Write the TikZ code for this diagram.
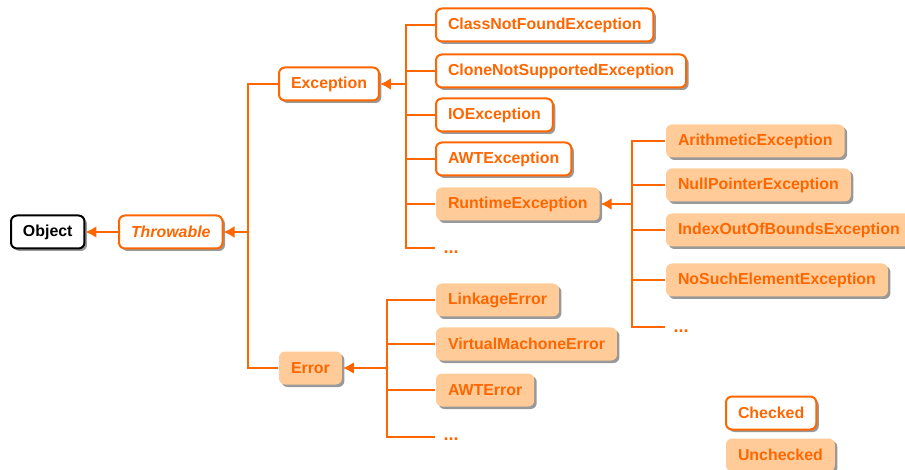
\documentclass[tikz,border=0pt]{standalone}
\usepackage{fontspec}
\setmainfont{Liberation Sans}
\usepackage{tikz}
\usetikzlibrary{arrows.meta,positioning,shadows}
\definecolor{excorange}{RGB}{255,102,0}
\definecolor{excfill}{RGB}{255,204,153}

\begin{document}
\begin{tikzpicture}[x=1pt,y=-1pt,>={Latex[length=11pt,width=12pt]},
  every node/.style={font=\fontsize{15.9}{18}\selectfont\bfseries,text=excorange,anchor=west},
  classbox/.style={rounded corners=6pt,minimum height=33pt,inner xsep=12pt,line width=2pt,
    drop shadow={shadow xshift=2.5pt,shadow yshift=-2.5pt,fill=black!40,opacity=1}},
  chkbox/.style={classbox,draw=excorange,fill=white},
  unchkbox/.style={classbox,fill=excfill},
  dots/.style={font=\fontsize{18}{20}\selectfont\bfseries},
  link/.style={draw=excorange,line width=2.3pt}]
\useasboundingbox (0,0) rectangle (905,470);

% root of the hierarchy
\node[classbox,draw=black,fill=white,text=black](obj) at (10,232){Object};
\node[chkbox](thr) at (118,232){\itshape Throwable};
\node[chkbox](exc) at (278,84){Exception};
\node[unchkbox](err) at (278,368){Error};

% subclasses of Exception
\node[chkbox](cnf) at (435,25){ClassNotFoundException};
\node[chkbox](cns) at (435,71){CloneNotSupportedException};
\node[chkbox](ioe) at (435,115){IOException};
\node[chkbox](awte) at (435,159){AWTException};
\node[unchkbox](rte) at (435,204){RuntimeException};
\node[dots](exdots) at (440,252){...};

% subclasses of RuntimeException
\node[unchkbox](ari) at (665,141){ArithmeticException};
\node[unchkbox](npe) at (665,185){NullPointerException};
\node[unchkbox](ioob) at (665,230){IndexOutOfBoundsException};
\node[unchkbox](nse) at (665,280){NoSuchElementException};
\node[dots](rtdots) at (670,331){...};

% subclasses of Error
\node[unchkbox](lnk) at (435,300){LinkageError};
\node[unchkbox](vme) at (435,344){VirtualMachoneError};
\node[unchkbox](awterr) at (435,390){AWTError};
\node[dots](errdots) at (440,439){...};

% legend
\node[chkbox](chk) at (725,413){Checked};
\node[unchkbox](unchk) at (725,455){Unchecked};

% branching points
\coordinate (trunk) at (248,232);
\coordinate (exbus) at (406,84);
\coordinate (exend) at (435,248);
\coordinate (rtbus) at (632,204);
\coordinate (rtend) at (665,327);
\coordinate (errbus) at (387,368);
\coordinate (errend) at (435,437);

\draw[link,->](thr)--(obj);
\draw[link,->](trunk)--(thr.east);
\draw[link](trunk)|-(exc.west); \draw[link](trunk)|-(err.west);

\draw[link,->](exbus)--(exc.east);
\foreach \n in {cnf,cns,ioe,awte,rte}{\draw[link](exbus)|-(\n.west);}
\draw[link](exbus)|-(exend);

\draw[link,->](rtbus)--(rte.east);
\foreach \n in {ari,npe,ioob,nse}{\draw[link](rtbus)|-(\n.west);}
\draw[link](rtbus)|-(rtend);

\draw[link,->](errbus)--(err.east);
\foreach \n in {lnk,vme,awterr}{\draw[link](errbus)|-(\n.west);}
\draw[link](errbus)|-(errend);
\end{tikzpicture}
\end{document}
